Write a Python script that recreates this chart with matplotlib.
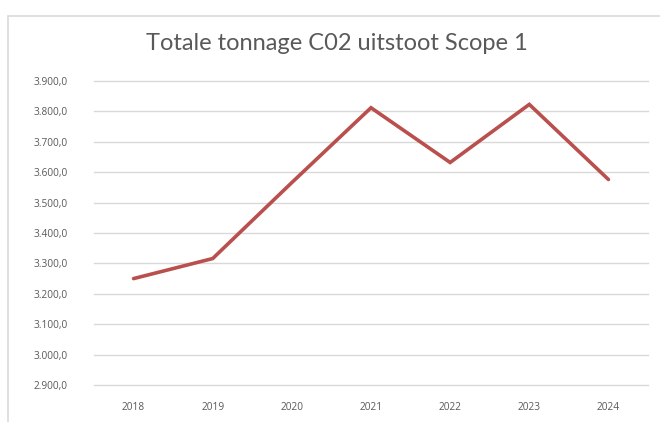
import matplotlib.pyplot as plt
from matplotlib.patches import Rectangle
from matplotlib.ticker import FuncFormatter

years = ["2018", "2019", "2020", "2021", "2022", "2023", "2024"]
tonnage = [3250, 3316, 3566, 3812, 3632, 3823, 3576]
y_ticks = list(range(2900, 4000, 100))

plt.rcParams['font.family'] = ['Open Sans', 'DejaVu Sans']

fig = plt.figure(figsize=(6.6, 4.22), dpi=100)
W, H = 660, 422

# chart area border (clipped on right and bottom like the screenshot)
fig.patches.append(Rectangle((8 / W, -0.1), 1.2, 1.1 - 16 / H,
                             transform=fig.transFigure, fill=False,
                             edgecolor="#d9d9d9", linewidth=1.2))

ax = fig.add_axes([94 / W, 1 - 385 / H, (648 - 94) / W, (385 - 81) / H])

ax.plot(range(len(years)), tonnage, color="#b9504d", linewidth=2.6,
        solid_capstyle="round", solid_joinstyle="miter", zorder=3)

ax.set_xlim(-0.5, len(years) - 0.5)
ax.set_ylim(2900, 3900)
ax.set_yticks(y_ticks)
ax.yaxis.set_major_formatter(FuncFormatter(
    lambda v, p: f"{v:,.1f}".replace(",", "X").replace(".", ",").replace("X", ".")))
ax.set_xticks(range(len(years)))
ax.set_xticklabels(years)

ax.grid(axis="y", color="#d9d9d9", linewidth=1.0)
for gl in ax.get_ygridlines():
    gl.set_clip_on(False)
ax.set_axisbelow(True)
for s in ax.spines.values():
    s.set_visible(False)
ax.tick_params(length=0, labelsize=7.3, colors="#595959")
ax.tick_params(axis="y", pad=19)
ax.tick_params(axis="x", pad=12)

fig.text(337 / W, 1 - 44 / H, "Totale tonnage C02 uitstoot Scope 1",
         ha="center", va="center", fontsize=17, color="#595959",
         family=["Lato", "DejaVu Sans"])

plt.savefig("out.png", dpi=100)
